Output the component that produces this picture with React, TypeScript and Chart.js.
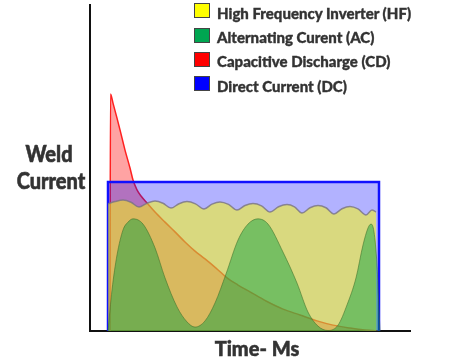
import React, { useEffect, useRef } from "react";
import { Chart, registerables } from "chart.js";

Chart.register(...registerables);

// Legend / titles
const legendLabels = [
  "High Frequency Inverter (HF)",
  "Alternating Curent (AC)",
  "Capacitive Discharge (CD)",
  "Direct Current (DC)",
];
const legendColors = ["#ffff00", "#00a651", "#ff0000", "#0000ff"];
const yTitleLines = ["Weld", "Current"];
const xTitle = "Time- Ms";

// Axis ranges
const timeMax = 32;
const currentMax = 100;

// Direct Current (DC)
const dcTime = [1.8, 1.8, 28.9, 28.9];
const dcCurrent = [0, 45.7, 45.7, 0];

// High Frequency Inverter (HF) – rippled plateau
const hfTime = [
  1.8, 2.5, 3.3, 4.1, 4.9, 5.7, 6.5, 7.3, 8.1, 8.9, 9.7, 10.55, 11.4, 12.2, 13.0,
  13.85, 14.7, 15.5, 16.3, 17.15, 18.0, 18.85, 19.7, 20.45, 21.2, 22.0, 22.8, 23.6,
  24.4, 25.2, 26.0, 26.8, 27.6, 28.2, 28.6,
];
const hfCurrent = [
  39.0, 39.7, 40.2, 39.5, 38.0, 39.2, 39.9, 39.2, 37.7, 39.05, 39.7, 39.0, 37.4, 38.9,
  39.6, 38.85, 37.1, 38.5, 39.1, 38.4, 36.5, 38.1, 38.8, 38.1, 36.2, 37.8, 38.5, 37.8,
  35.9, 37.5, 38.2, 37.45, 35.6, 37.1, 36.5,
];

// Alternating Current (AC)
const acTime = [
  1.8, 2.2, 2.7, 3.3, 3.8, 4.3, 5.3, 6.5, 7.5, 8.7, 9.7, 10.5, 11.5, 12.5, 13.6, 14.8,
  15.8, 16.8, 17.8, 19.3, 20.7, 21.8, 22.8, 23.8, 24.8, 25.7, 26.6, 27.3, 27.8, 28.1,
  28.4, 28.7, 28.9, 29.0,
];
const acCurrent = [
  0, 12.6, 23.3, 31.0, 33.4, 34.4, 32.8, 25.5, 16.3, 7.4, 2.8, 1.2, 3.1, 8.6, 17.5,
  27.9, 32.8, 34.4, 32.8, 24.2, 14.7, 5.8, 1.5, 0.15, 1.8, 8.0, 16.3, 26.4, 31.6, 32.8,
  30.4, 20.2, 6.4, 0,
];

// Capacitive Discharge (CD)
const cdTime = [
  2.0, 2.05, 2.3, 2.7, 3.0, 3.5, 4.0, 4.3, 4.7, 5.1, 5.7, 6.5, 7.5, 8.5, 9.5, 10.5,
  11.5, 12.6, 13.7, 14.8, 16.0, 17.6, 19.3, 21.0, 22.7, 24.3, 26.0, 27.5, 29.0,
];
const cdCurrent = [
  0, 72.7, 69.9, 65.3, 61.7, 55.5, 50.0, 46.3, 43.3, 41.4, 39.3, 36.5, 33.4, 30.4, 27.3,
  24.5, 22.1, 19.3, 16.3, 14.1, 12.0, 9.2, 6.7, 4.9, 3.1, 1.8, 0.9, 0.3, 0,
];

const pts = (xs: number[], ys: number[]) => xs.map((x, i) => ({ x, y: ys[i] }));

const textColor = "#333333";
const fontFamily = "Lato, 'Open Sans', sans-serif";

export default function App() {
  const canvasRef = useRef<HTMLCanvasElement | null>(null);

  useEffect(() => {
    const canvas = canvasRef.current;
    if (!canvas) return;
    const chart = new Chart(canvas, {
      type: "line",
      data: {
        datasets: [
          {
            label: legendLabels[1],
            data: pts(acTime, acCurrent),
            borderColor: "rgba(60,110,40,0.55)",
            borderWidth: 1,
            backgroundColor: "rgba(0,160,64,0.45)",
            fill: "origin",
            cubicInterpolationMode: "monotone",
            pointRadius: 0,
            order: 0,
          },
          {
            label: legendLabels[0],
            data: pts(hfTime, hfCurrent),
            borderColor: "rgba(120,115,130,0.8)",
            borderWidth: 1.5,
            backgroundColor: "rgba(255,255,0,0.5)",
            fill: "origin",
            cubicInterpolationMode: "monotone",
            pointRadius: 0,
            order: 1,
          },
          {
            label: legendLabels[3],
            data: pts(dcTime, dcCurrent),
            borderColor: "#1010ff",
            borderWidth: 2.5,
            backgroundColor: "rgba(0,0,255,0.3)",
            fill: "origin",
            tension: 0,
            pointRadius: 0,
            order: 2,
          },
          {
            label: legendLabels[2],
            data: pts(cdTime, cdCurrent),
            borderColor: "#ff2020",
            borderWidth: 1.5,
            backgroundColor: "rgba(255,0,0,0.36)",
            fill: "origin",
            cubicInterpolationMode: "monotone",
            pointRadius: 0,
            order: 3,
          },
        ],
      },
      options: {
        responsive: false,
        animation: false,
        events: [],
        layout: { padding: { left: 90, right: 43, top: 5, bottom: 28 } },
        plugins: {
          legend: { display: false },
          tooltip: { enabled: false },
          title: { display: false },
        },
        scales: {
          x: {
            type: "linear",
            min: 0,
            max: timeMax,
            grid: { display: false, drawTicks: false },
            ticks: { display: false },
            border: { display: true, color: "#111", width: 2 },
          },
          y: {
            type: "linear",
            min: 0,
            max: currentMax,
            grid: { display: false, drawTicks: false },
            ticks: { display: false },
            border: { display: true, color: "#111", width: 2 },
          },
        },
      },
    });
    return () => chart.destroy();
  }, []);

  const textBase: React.CSSProperties = {
    position: "absolute",
    whiteSpace: "nowrap",
    fontFamily,
    fontWeight: 900,
    color: textColor,
    lineHeight: 1,
  };

  return (
    <div style={{ position: "absolute", left: 0, top: 0, width: 453, height: 359, background: "#fff" }}>
      <canvas ref={canvasRef} width={453} height={359} style={{ display: "block", width: 453, height: 359 }} />
      {legendLabels.map((label, i) => (
        <div key={label} style={{ position: "absolute", left: 194, top: 3.3 + i * 24.2, height: 20 }}>
          <div
            style={{
              position: "absolute",
              left: 0,
              top: 0,
              width: 14,
              height: 13,
              background: legendColors[i],
              border: "1px solid #444",
            }}
          />
          <div style={{ ...textBase, left: 23, top: 2.7, fontSize: 15, WebkitTextStroke: "0.35px #333" }}>{label}</div>
        </div>
      ))}
      <div style={{ ...textBase, left: 9, width: 80, top: 141.6, fontSize: 23, textAlign: "center", transform: "scaleX(0.87)", WebkitTextStroke: "0.6px #333" }}>
        {yTitleLines[0]}
      </div>
      <div style={{ ...textBase, left: 11, width: 80, top: 168.6, fontSize: 23, textAlign: "center", transform: "scaleX(0.87)", WebkitTextStroke: "0.6px #333" }}>
        {yTitleLines[1]}
      </div>
      <div style={{ ...textBase, left: 197, width: 120, top: 338.3, fontSize: 20, textAlign: "center", WebkitTextStroke: "0.5px #333" }}>
        {xTitle}
      </div>
    </div>
  );
}
